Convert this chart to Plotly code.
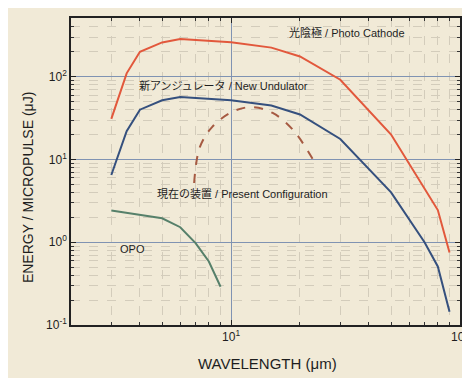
import plotly.graph_objects as go

# Photo Cathode (red)
pc_wl = [3, 3.5, 4, 5, 6, 10, 15, 20, 30, 50, 80, 90]
pc_e = [31, 110, 200, 260, 285, 262, 225, 176, 92, 20, 2.45, 0.75]

# New Undulator (blue)
nu_wl = [3, 3.5, 4, 5, 6, 10, 15, 20, 30, 50, 70, 80, 90]
nu_e = [6.5, 22, 40, 52, 57, 52, 45, 35, 17.7, 4.0, 1.0, 0.51, 0.145]

# Present Configuration (dashed)
pr_wl = [6.9, 7.3, 8.3, 10.2, 12.4, 15.2, 18.6, 22.8]
pr_e = [5.2, 14, 25, 38, 43, 36.5, 23, 10]

# OPO (green)
opo_wl = [3, 5, 6, 7, 8, 9]
opo_e = [2.42, 1.95, 1.52, 0.975, 0.585, 0.29]

ytick_vals = [0.1, 1, 10, 100]
ytick_text = ["10<sup>-1</sup>", "10<sup>0</sup>", "10<sup>1</sup>", "10<sup>2</sup>"]
xtick_vals = [10, 100]
xtick_text = ["10<sup>1</sup>", "10<sup>2</sup>"]

BG = "#F1EAD7"
JP = "Liberation Sans, Noto Sans CJK JP"

fig = go.Figure()
fig.add_trace(go.Scatter(x=pc_wl, y=pc_e, mode="lines",
                         line=dict(color="#E2583C", width=2)))
fig.add_trace(go.Scatter(x=nu_wl, y=nu_e, mode="lines",
                         line=dict(color="#35507E", width=2)))
fig.add_trace(go.Scatter(x=pr_wl, y=pr_e, mode="lines",
                         line=dict(color="#A65A42", width=2, dash="dash", shape="spline")))
fig.add_trace(go.Scatter(x=opo_wl, y=opo_e, mode="lines",
                         line=dict(color="#56806A", width=2)))

axis_common = dict(
    type="log", showline=True, linecolor="#222222", linewidth=1.5,
    mirror="allticks", ticks="inside", ticklen=5, tickcolor="#222222",
    showgrid=True, gridcolor="#8093B2", gridwidth=1.2,
    zeroline=False, automargin=False,
    tickfont=dict(family="Liberation Sans", size=12, color="#1E1E1E"),
    minor=dict(dtick="D1", ticks="inside", ticklen=3, tickcolor="#333333",
               showgrid=True, gridcolor="#D3CCBB", griddash="dash", gridwidth=1),
)

fig.update_xaxes(**axis_common, range=[0.301, 2.0],
                 tickvals=xtick_vals, ticktext=xtick_text)
fig.update_yaxes(**axis_common, range=[-1, 2.71],
                 tickvals=ytick_vals, ticktext=ytick_text)

labels = [
    (1.506, 2.532, "光陰極 / Photo Cathode"),
    (0.966, 1.891, "新アンジュレータ / New Undulator"),
    (1.05, 0.585, "現在の装置 / Present Configuration"),
    (0.569, -0.08, "OPO"),
]
annotations = []
for lx, ly, txt in labels:
    annotations.append(dict(x=lx, y=ly, xref="x", yref="y", text=txt,
                            showarrow=False, xanchor="center", yanchor="middle",
                            font=dict(family=JP, size=11, color="#1E1E1E")))

annotations.append(dict(x=-0.1105, y=0.446, xref="paper", yref="paper",
                        text="ENERGY / MICROPULSE (μJ)", textangle=-90,
                        showarrow=False, xanchor="center", yanchor="middle",
                        font=dict(family="Liberation Sans", size=14, color="#1E1E1E")))
annotations.append(dict(x=0.504, y=-0.124, xref="paper", yref="paper",
                        text="WAVELENGTH (μm)",
                        showarrow=False, xanchor="center", yanchor="middle",
                        font=dict(family="Liberation Sans", size=15, color="#1E1E1E")))

# page body has an 8px margin: size the figure so the plot lands where the reference has it
fig.update_layout(
    width=462, height=370,
    margin=dict(l=63, r=10, t=10, b=53),
    paper_bgcolor=BG, plot_bgcolor=BG,
    showlegend=False,
    annotations=annotations,
)

fig.write_html("out.html")
